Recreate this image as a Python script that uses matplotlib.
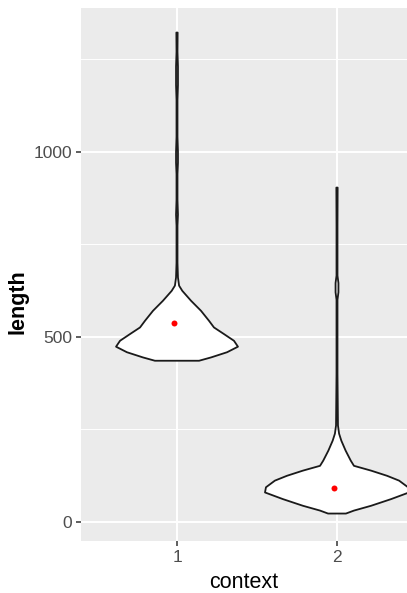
import numpy as np
import matplotlib
matplotlib.use("Agg")
import matplotlib.pyplot as plt

# ---------------------------------------------------------------
# Data (violin outlines as half-width profiles)
# ---------------------------------------------------------------
contexts = [1, 2]

# context 1: length values and violin half-widths (x units)
ctx1_length = [435, 444, 458, 473, 489, 507, 525, 543, 570, 597, 624, 638, 660,
               700, 800, 830, 870, 940, 970, 1000, 1040, 1140, 1180, 1230, 1270, 1322]
ctx1_width = [0.138, 0.213, 0.313, 0.381, 0.356, 0.294, 0.231, 0.200, 0.150, 0.088,
              0.033, 0.013, 0.006, 0.003, 0.003, 0.006, 0.003, 0.003, 0.006, 0.006,
              0.003, 0.003, 0.006, 0.006, 0.003, 0.004]

# context 2
ctx2_length = [22, 30, 43, 61, 79, 93, 111, 124, 138, 151, 165, 192, 219, 238, 260,
               400, 600, 620, 645, 665, 800, 903]
ctx2_width = [0.056, 0.106, 0.213, 0.338, 0.450, 0.444, 0.388, 0.313, 0.213, 0.106,
              0.086, 0.054, 0.027, 0.013, 0.006, 0.003, 0.003, 0.009, 0.009, 0.003,
              0.003, 0.004]

# mean of each group (red points)
means = [536, 90]

# ---------------------------------------------------------------
# Plot (ggplot2 theme_grey look)
# ---------------------------------------------------------------
plt.rcParams['font.family'] = ['Liberation Sans', 'DejaVu Sans']

fig = plt.figure(figsize=(4.07, 5.93), dpi=100)
ax = fig.add_axes([81 / 407, 1 - 540.7 / 593, 1 - 81 / 407, (540.7 - 8.3) / 593])
ax.set_facecolor('#EBEBEB')

for c, ys, ws in [(1, ctx1_length, ctx1_width), (2, ctx2_length, ctx2_width)]:
    ys = np.array(ys)
    ws = np.array(ws)
    xs = np.concatenate([c - ws, (c + ws)[::-1]])
    yy = np.concatenate([ys, ys[::-1]])
    ax.fill(xs, yy, facecolor='white', edgecolor='#1a1a1a', linewidth=1.3,
            zorder=3, joinstyle='round')

ax.plot(np.array(contexts) - 0.02, means, 'o', color='red', markersize=4.3,
        markeredgewidth=0, zorder=4)

ax.set_xlim(0.4, 2.4375)
ax.set_ylim(-51.4, 1387.6)
ax.set_xticks(contexts)
ax.set_xticklabels(['1', '2'])
ax.set_yticks([0, 500, 1000])
ax.set_yticks([250, 750, 1250], minor=True)

ax.grid(True, which='major', color='white', linewidth=1.4, zorder=0)
ax.grid(True, which='minor', axis='y', color='white', linewidth=0.7, zorder=0)
ax.set_axisbelow(True)
for s in ax.spines.values():
    s.set_visible(False)

ax.tick_params(axis='both', which='major', length=3.5, width=1.1, color='#333333',
               labelcolor='#4D4D4D', labelsize=12.5, pad=3)
ax.tick_params(axis='both', which='minor', length=0)

ax.set_xlabel('context', fontsize=15.5)
ax.set_ylabel('length', fontsize=15.5, fontweight='bold')
# label anchors: xlabel top edge, ylabel bottom (right) edge
ax.xaxis.set_label_coords((243.5 - 81) / 326, (540.7 - 572) / 532.4)
ax.yaxis.set_label_coords((29 - 81) / 326, (540.7 - 302) / 532.4)

fig.savefig('out.png', dpi=100)
